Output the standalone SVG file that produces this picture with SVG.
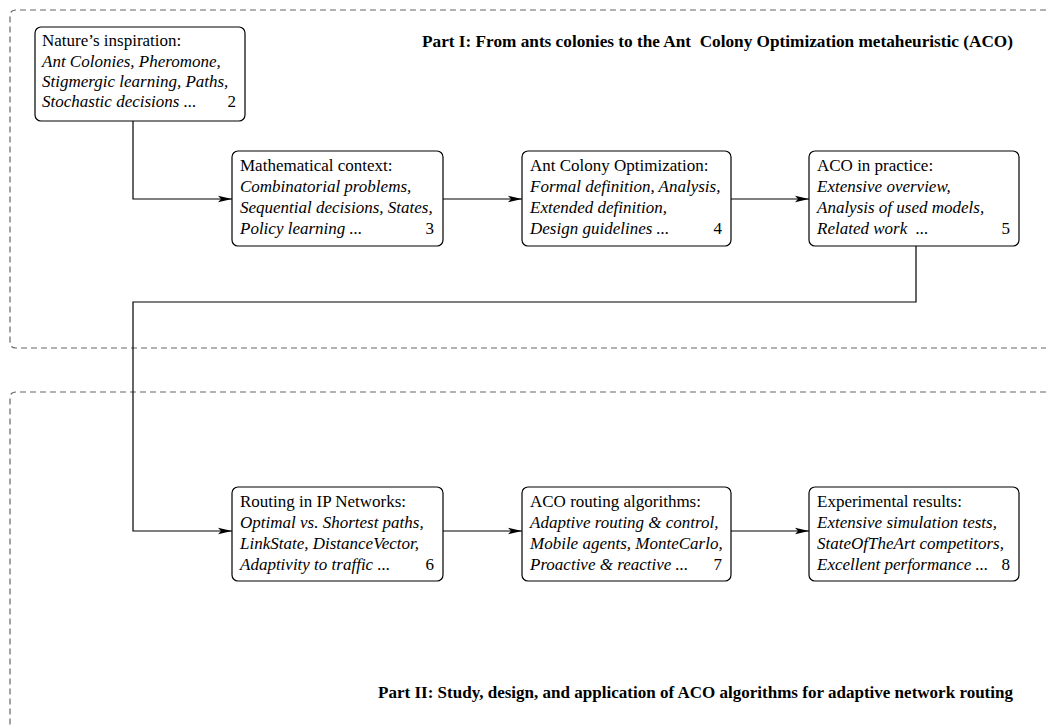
<svg xmlns="http://www.w3.org/2000/svg" width="1046" height="727" viewBox="0 0 1046 727">
  <defs>
    <marker id="arrow" markerWidth="14" markerHeight="8" refX="14" refY="4" orient="auto" markerUnits="userSpaceOnUse">
      <path d="M0,0.8 L14,4 L0,7.2 L3,4 Z" fill="#000"/>
    </marker>
  </defs>
  <style>
    .part { fill: none; stroke: #666; stroke-width: 1.2; stroke-dasharray: 6 4; }
    .node rect { fill: #fff; stroke: #000; stroke-width: 1.2; }
    .node text { font-family: "Liberation Serif", "Times New Roman", serif; font-size: 17px; fill: #000; }
    .node .it { font-style: italic; }
    .title { font-family: "Liberation Serif", "Times New Roman", serif; font-size: 17.5px; font-weight: bold; fill: #000; }
    .conn { fill: none; stroke: #000; stroke-width: 1.2; }
  </style>

  <!-- part frames -->
  <g id="parts">
    <path class="part" d="M1046,10 H16 Q10,10 10,16 V342 Q10,348 16,348 H1046"/>
    <path class="part" d="M1046,392 H16 Q10,392 10,398 V727"/>
    <text class="title" x="422" y="47" xml:space="preserve" textLength="591" lengthAdjust="spacingAndGlyphs">Part I: From ants colonies to the Ant  Colony Optimization metaheuristic (ACO)</text>
    <text class="title" x="378" y="698" textLength="635" lengthAdjust="spacingAndGlyphs">Part II: Study, design, and application of ACO algorithms for adaptive network routing</text>
  </g>

  <!-- connectors -->
  <g id="connectors">
    <path class="conn" d="M133,121 V199 H232" marker-end="url(#arrow)"/>
    <path class="conn" d="M443,199 H522" marker-end="url(#arrow)"/>
    <path class="conn" d="M731,199 H809" marker-end="url(#arrow)"/>
    <path class="conn" d="M916,246 V302 H133 V531 H232" marker-end="url(#arrow)"/>
    <path class="conn" d="M443,531 H522" marker-end="url(#arrow)"/>
    <path class="conn" d="M731,531 H809" marker-end="url(#arrow)"/>
  </g>

  <g id="n2" class="node">
    <rect x="35" y="27" width="210" height="94" rx="6"/>
    <text x="42" y="46">Nature’s inspiration:</text>
    <text class="it" x="42" y="67">Ant Colonies, Pheromone,</text>
    <text class="it" x="42" y="87">Stigmergic learning, Paths,</text>
    <text class="it" x="42" y="107">Stochastic decisions ...</text>
    <text x="236" y="107" text-anchor="end">2</text>
  </g>

  <g id="n3" class="node">
    <rect x="232" y="151" width="211" height="95" rx="6"/>
    <text x="240" y="171">Mathematical context:</text>
    <text class="it" x="240" y="192">Combinatorial problems,</text>
    <text class="it" x="240" y="213">Sequential decisions, States,</text>
    <text class="it" x="240" y="234">Policy learning ...</text>
    <text x="434" y="234" text-anchor="end">3</text>
  </g>

  <g id="n4" class="node">
    <rect x="522" y="151" width="209" height="95" rx="6"/>
    <text x="530" y="171">Ant Colony Optimization:</text>
    <text class="it" x="530" y="192">Formal definition, Analysis,</text>
    <text class="it" x="530" y="213">Extended definition,</text>
    <text class="it" x="530" y="234">Design guidelines ...</text>
    <text x="722" y="234" text-anchor="end">4</text>
  </g>

  <g id="n5" class="node">
    <rect x="809" y="151" width="210" height="95" rx="6"/>
    <text x="817" y="171">ACO in practice:</text>
    <text class="it" x="817" y="192">Extensive overview,</text>
    <text class="it" x="817" y="213">Analysis of used models,</text>
    <text class="it" x="817" y="234" xml:space="preserve">Related work  ...</text>
    <text x="1010" y="234" text-anchor="end">5</text>
  </g>

  <g id="n6" class="node">
    <rect x="232" y="487" width="211" height="94" rx="6"/>
    <text x="240" y="507">Routing in IP Networks:</text>
    <text class="it" x="240" y="528">Optimal vs. Shortest paths,</text>
    <text class="it" x="240" y="549">LinkState, DistanceVector,</text>
    <text class="it" x="240" y="570">Adaptivity to traffic ...</text>
    <text x="434" y="570" text-anchor="end">6</text>
  </g>

  <g id="n7" class="node">
    <rect x="522" y="487" width="209" height="94" rx="6"/>
    <text x="530" y="507">ACO routing algorithms:</text>
    <text class="it" x="530" y="528">Adaptive routing &amp; control,</text>
    <text class="it" x="530" y="549">Mobile agents, MonteCarlo,</text>
    <text class="it" x="530" y="570">Proactive &amp; reactive ...</text>
    <text x="722" y="570" text-anchor="end">7</text>
  </g>

  <g id="n8" class="node">
    <rect x="809" y="487" width="210" height="94" rx="6"/>
    <text x="817" y="507">Experimental results:</text>
    <text class="it" x="817" y="528">Extensive simulation tests,</text>
    <text class="it" x="817" y="549">StateOfTheArt competitors,</text>
    <text class="it" x="817" y="570">Excellent performance ...</text>
    <text x="1010" y="570" text-anchor="end">8</text>
  </g>
</svg>
